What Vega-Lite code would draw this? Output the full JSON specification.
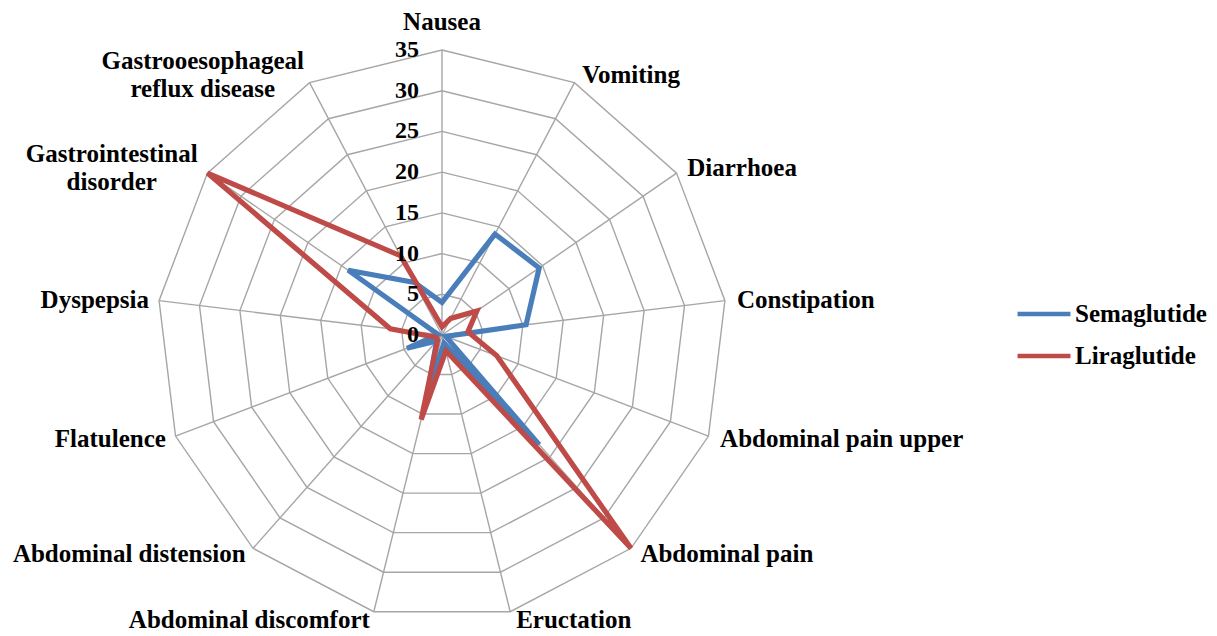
{
  "$schema": "https://vega.github.io/schema/vega-lite/v6.json",
  "width": 570,
  "height": 570,
  "autosize": {"type": "none"},
  "padding": {"left": 157, "top": 50, "right": 490, "bottom": 16},
  "background": "white",
  "config": {"view": {"stroke": null}, "font": "Liberation Serif"},
  "datasets": {
    "cats": [
      {"cat": "Nausea", "idx": 0, "levels": [5, 10, 15, 20, 25, 30, 35]},
      {"cat": "Vomiting", "idx": 1, "levels": [5, 10, 15, 20, 25, 30, 35]},
      {"cat": "Diarrhoea", "idx": 2, "levels": [5, 10, 15, 20, 25, 30, 35]},
      {"cat": "Constipation", "idx": 3, "levels": [5, 10, 15, 20, 25, 30, 35]},
      {"cat": "Abdominal pain upper", "idx": 4, "levels": [5, 10, 15, 20, 25, 30, 35]},
      {"cat": "Abdominal pain", "idx": 5, "levels": [5, 10, 15, 20, 25, 30, 35]},
      {"cat": "Eructation", "idx": 6, "levels": [5, 10, 15, 20, 25, 30, 35]},
      {"cat": "Abdominal discomfort", "idx": 7, "levels": [5, 10, 15, 20, 25, 30, 35]},
      {"cat": "Abdominal distension", "idx": 8, "levels": [5, 10, 15, 20, 25, 30, 35]},
      {"cat": "Flatulence", "idx": 9, "levels": [5, 10, 15, 20, 25, 30, 35]},
      {"cat": "Dyspepsia", "idx": 10, "levels": [5, 10, 15, 20, 25, 30, 35]},
      {"cat": "Gastrointestinal\ndisorder", "idx": 11, "levels": [5, 10, 15, 20, 25, 30, 35]},
      {"cat": "Gastrooesophageal\nreflux disease", "idx": 12, "levels": [5, 10, 15, 20, 25, 30, 35]}
    ],
    "series": [
      {"drug": "Semaglutide", "idx": 0, "value": 4},
      {"drug": "Semaglutide", "idx": 1, "value": 14},
      {"drug": "Semaglutide", "idx": 2, "value": 14.5},
      {"drug": "Semaglutide", "idx": 3, "value": 10.4},
      {"drug": "Semaglutide", "idx": 4, "value": 0.5},
      {"drug": "Semaglutide", "idx": 5, "value": 18},
      {"drug": "Semaglutide", "idx": 6, "value": 1},
      {"drug": "Semaglutide", "idx": 7, "value": 7.5},
      {"drug": "Semaglutide", "idx": 8, "value": 1},
      {"drug": "Semaglutide", "idx": 9, "value": 4.6},
      {"drug": "Semaglutide", "idx": 10, "value": 0.5},
      {"drug": "Semaglutide", "idx": 11, "value": 14},
      {"drug": "Semaglutide", "idx": 12, "value": 7.3},
      {"drug": "Liraglutide", "idx": 0, "value": 1},
      {"drug": "Liraglutide", "idx": 1, "value": 2.3},
      {"drug": "Liraglutide", "idx": 2, "value": 5.2},
      {"drug": "Liraglutide", "idx": 3, "value": 3.2},
      {"drug": "Liraglutide", "idx": 4, "value": 7.2},
      {"drug": "Liraglutide", "idx": 5, "value": 35},
      {"drug": "Liraglutide", "idx": 6, "value": 2},
      {"drug": "Liraglutide", "idx": 7, "value": 10.7},
      {"drug": "Liraglutide", "idx": 8, "value": 0.8},
      {"drug": "Liraglutide", "idx": 9, "value": 0.8},
      {"drug": "Liraglutide", "idx": 10, "value": 6.4},
      {"drug": "Liraglutide", "idx": 11, "value": 35},
      {"drug": "Liraglutide", "idx": 12, "value": 11}
    ],
    "ticks": [{"t": 0}, {"t": 5}, {"t": 10}, {"t": 15}, {"t": 20}, {"t": 25}, {"t": 30}, {"t": 35}]
  },
  "layer": [
    {
      "data": {"name": "cats"},
      "transform": [
        {"flatten": ["levels"], "as": ["lv"]},
        {"calculate": "datum.idx * 2 * PI / 13", "as": "a"},
        {"calculate": "datum.lv * sin(datum.a)", "as": "gx"},
        {"calculate": "datum.lv * cos(datum.a)", "as": "gy"}
      ],
      "mark": {"type": "line", "interpolate": "linear-closed", "color": "#A6A6A6", "strokeWidth": 1.4},
      "encoding": {
        "x": {"field": "gx", "type": "quantitative", "scale": {"domain": [-35, 35], "nice": false, "zero": false}, "axis": null},
        "y": {"field": "gy", "type": "quantitative", "scale": {"domain": [-35, 35], "nice": false, "zero": false}, "axis": null},
        "detail": {"field": "lv", "type": "nominal"},
        "order": {"field": "idx", "type": "quantitative"}
      }
    },
    {
      "data": {"name": "cats"},
      "transform": [
        {"calculate": "datum.idx * 2 * PI / 13", "as": "a"},
        {"calculate": "0", "as": "z"},
        {"calculate": "35 * sin(datum.a)", "as": "sx"},
        {"calculate": "35 * cos(datum.a)", "as": "sy"}
      ],
      "mark": {"type": "rule", "color": "#A6A6A6", "strokeWidth": 1.4},
      "encoding": {
        "x": {"field": "z", "type": "quantitative"},
        "y": {"field": "z", "type": "quantitative"},
        "x2": {"field": "sx"},
        "y2": {"field": "sy"}
      }
    },
    {
      "data": {"name": "series"},
      "transform": [
        {"calculate": "datum.idx * 2 * PI / 13", "as": "a"},
        {"calculate": "datum.value * sin(datum.a)", "as": "px"},
        {"calculate": "datum.value * cos(datum.a)", "as": "py"}
      ],
      "mark": {"type": "line", "interpolate": "linear-closed", "strokeWidth": 5.2},
      "encoding": {
        "x": {"field": "px", "type": "quantitative"},
        "y": {"field": "py", "type": "quantitative"},
        "order": {"field": "idx", "type": "quantitative"},
        "color": {
          "field": "drug",
          "type": "nominal",
          "scale": {"domain": ["Semaglutide", "Liraglutide"], "range": ["#4A7EBB", "#BE4B48"]},
          "legend": {
            "title": null,
            "orient": "none",
            "legendX": 858,
            "legendY": 235,
            "symbolType": "stroke",
            "symbolSize": 2800,
            "symbolStrokeWidth": 4.5,
            "labelFontSize": 25,
            "labelFont": "Liberation Serif",
            "labelFontWeight": "bold",
            "labelColor": "black",
            "labelOffset": 2,
            "labelLimit": 300,
            "rowPadding": -3,
            "padding": 0
          }
        }
      }
    },
    {
      "data": {"name": "ticks"},
      "transform": [{"calculate": "0", "as": "z"}],
      "mark": {"type": "text", "align": "right", "baseline": "middle", "dx": -23, "fontSize": 24, "fontWeight": "bold", "color": "black"},
      "encoding": {
        "x": {"field": "z", "type": "quantitative"},
        "y": {"field": "t", "type": "quantitative"},
        "text": {"field": "t", "type": "quantitative"}
      }
    },
    {
      "data": {"name": "cats"},
      "transform": [
        {"calculate": "datum.idx * 2 * PI / 13", "as": "a"},
        {"filter": "sin(datum.a) > 0.1"},
        {"calculate": "36 * sin(datum.a)", "as": "lx"},
        {"calculate": "36 * cos(datum.a)", "as": "ly"}
      ],
      "mark": {"type": "text", "align": "left", "baseline": "middle", "dx": 4, "fontSize": 25, "fontWeight": "bold", "color": "black"},
      "encoding": {
        "x": {"field": "lx", "type": "quantitative"},
        "y": {"field": "ly", "type": "quantitative"},
        "text": {"field": "cat", "type": "nominal"}
      }
    },
    {
      "data": {"name": "cats"},
      "transform": [
        {"calculate": "datum.idx * 2 * PI / 13", "as": "a"},
        {"filter": "sin(datum.a) < -0.1 && datum.idx <= 10"},
        {"calculate": "36 * sin(datum.a)", "as": "lx"},
        {"calculate": "36 * cos(datum.a)", "as": "ly"}
      ],
      "mark": {"type": "text", "align": "right", "baseline": "middle", "dx": -2, "fontSize": 25, "fontWeight": "bold", "color": "black"},
      "encoding": {
        "x": {"field": "lx", "type": "quantitative"},
        "y": {"field": "ly", "type": "quantitative"},
        "text": {"field": "cat", "type": "nominal"}
      }
    },
    {
      "data": {"name": "cats"},
      "transform": [
        {"calculate": "datum.idx * 2 * PI / 13", "as": "a"},
        {"filter": "datum.idx == 11"},
        {"calculate": "36 * sin(datum.a)", "as": "lx"},
        {"calculate": "36 * cos(datum.a)", "as": "ly"}
      ],
      "mark": {"type": "text", "align": "center", "baseline": "middle", "dx": -89, "dy": -14, "fontSize": 25, "fontWeight": "bold", "color": "black", "lineBreak": "\n", "lineHeight": 28},
      "encoding": {
        "x": {"field": "lx", "type": "quantitative"},
        "y": {"field": "ly", "type": "quantitative"},
        "text": {"field": "cat", "type": "nominal"}
      }
    },
    {
      "data": {"name": "cats"},
      "transform": [
        {"calculate": "datum.idx * 2 * PI / 13", "as": "a"},
        {"filter": "datum.idx == 12"},
        {"calculate": "36 * sin(datum.a)", "as": "lx"},
        {"calculate": "36 * cos(datum.a)", "as": "ly"}
      ],
      "mark": {"type": "text", "align": "center", "baseline": "middle", "dx": -103, "dy": -14, "fontSize": 25, "fontWeight": "bold", "color": "black", "lineBreak": "\n", "lineHeight": 28},
      "encoding": {
        "x": {"field": "lx", "type": "quantitative"},
        "y": {"field": "ly", "type": "quantitative"},
        "text": {"field": "cat", "type": "nominal"}
      }
    },
    {
      "data": {"name": "cats"},
      "transform": [
        {"filter": "datum.idx == 0"},
        {"calculate": "0", "as": "lx"},
        {"calculate": "38.4", "as": "ly"}
      ],
      "mark": {"type": "text", "align": "center", "baseline": "middle", "fontSize": 25, "fontWeight": "bold", "color": "black"},
      "encoding": {
        "x": {"field": "lx", "type": "quantitative"},
        "y": {"field": "ly", "type": "quantitative"},
        "text": {"field": "cat", "type": "nominal"}
      }
    }
  ]
}
